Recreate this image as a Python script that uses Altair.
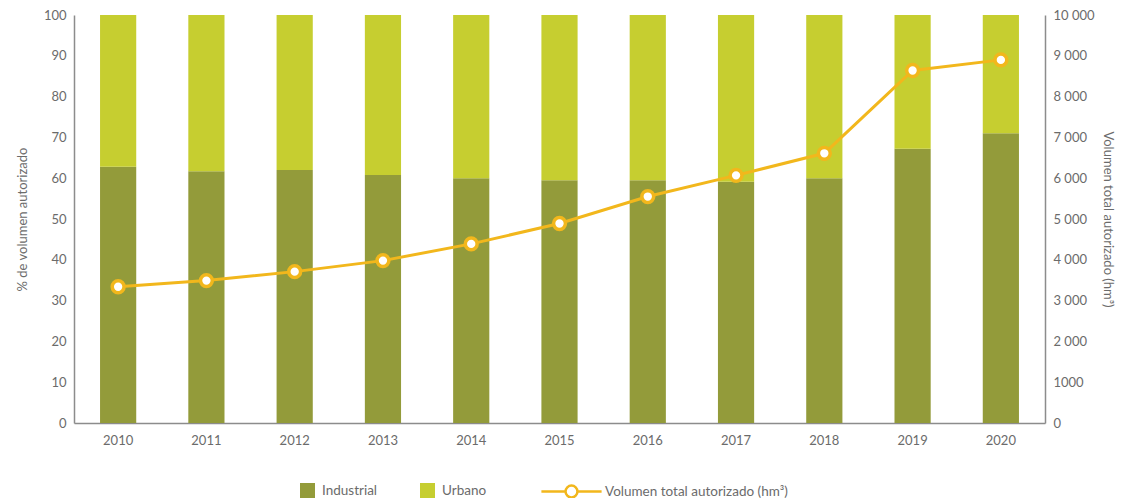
import altair as alt
import pandas as pd

years = [str(y) for y in range(2010, 2021)]
industrial = [62.8, 61.7, 62.0, 60.8, 60.0, 59.5, 59.5, 59.1, 60.0, 67.2, 71.0]
urbano = [round(100 - v, 1) for v in industrial]
volumen = [3340, 3490, 3710, 3980, 4390, 4890, 5550, 6070, 6610, 8640, 8900]
tipos = ["Industrial", "Urbano"]
colores = ["#939b3a", "#c6ce30"]
serie = "Volumen total autorizado (hm³)"
pct_ticks = list(range(0, 101, 10))
vol_ticks = list(range(0, 10001, 1000))

bars_df = pd.DataFrame({
    "year": years * 2,
    "tipo": ["Industrial"] * len(years) + ["Urbano"] * len(years),
    "pct": industrial + urbano,
    "orden": [0] * len(years) + [1] * len(years),
})
line_df = pd.DataFrame({"year": years, "vol": volumen, "serie": [serie] * len(years)})

FONT = "Lato"
GRAY = "#6b6b6b"
AXIS_GRAY = "#8c8c8c"
YEL = "#f2b71c"

x = alt.X(
    "year:O",
    scale=alt.Scale(paddingInner=0.59, paddingOuter=0.295),
    axis=alt.Axis(title=None, labelAngle=0, ticks=False, labelPadding=11),
)

bars = alt.Chart(bars_df).mark_bar().encode(
    x=x,
    y=alt.Y(
        "pct:Q",
        stack="zero",
        scale=alt.Scale(domain=[0, 100], nice=False),
        axis=alt.Axis(
            title="% de volumen autorizado",
            values=pct_ticks,
            ticks=False,
            grid=False,
            labelPadding=8,
            titlePadding=14,
        ),
    ),
    color=alt.Color(
        "tipo:N",
        scale=alt.Scale(domain=tipos, range=colores),
        legend=alt.Legend(
            title=None,
            orient="none",
            direction="horizontal",
            legendX=226,
            legendY=468,
            symbolType="square",
            symbolSize=225,
            symbolStrokeWidth=0,
            symbolOpacity=1,
            labelOffset=7,
            columnPadding=42,
            padding=0,
        ),
    ),
    order=alt.Order("orden:Q"),
)

vol_scale = alt.Scale(domain=[0, 10000], nice=False)
stroke_scale = alt.Scale(domain=[serie], range=[YEL])

legend_path = "M-4.3,0H-0.85M0.85,0H4.3M0.85,0A0.85,0.85 0 1,1 -0.85,0A0.85,0.85 0 1,1 0.85,0Z"
line_legend = alt.Legend(
    title=None,
    orient="none",
    legendX=489,
    legendY=468,
    symbolType=legend_path,
    symbolSize=196,
    symbolStrokeWidth=2.5,
    symbolFillColor="white",
    symbolOpacity=1,
    labelOffset=25,
    labelLimit=400,
    padding=0,
)

line = alt.Chart(line_df).mark_line(strokeWidth=3).encode(
    x=x,
    y=alt.Y(
        "vol:Q",
        scale=vol_scale,
        axis=alt.Axis(
            orient="right",
            title=serie,
            values=vol_ticks,
            ticks=False,
            grid=False,
            labelPadding=8,
            titlePadding=6,
            labelExpr="datum.value >= 2000 ? replace(format(datum.value, ','), ',', ' ') : format(datum.value, 'd')",
        ),
    ),
    stroke=alt.Stroke("serie:N", scale=stroke_scale, legend=line_legend),
)

points = alt.Chart(line_df).mark_point(
    filled=False, fill="white", fillOpacity=1, strokeWidth=3.5, size=140, opacity=1
).encode(
    x=x,
    y=alt.Y("vol:Q", scale=vol_scale, axis=None),
    stroke=alt.Stroke("serie:N", scale=stroke_scale, legend=line_legend),
)

chart = (
    alt.layer(bars, line, points)
    .resolve_scale(y="independent")
    .properties(
        width=971,
        height=408,
        autosize=alt.AutoSizeParams(type="none"),
        padding={"left": 66, "top": 7, "right": 72, "bottom": 75},
    )
    .configure_view(stroke=None)
    .configure_axis(
        labelFont=FONT,
        titleFont=FONT,
        labelFontSize=13,
        titleFontSize=13,
        labelColor=GRAY,
        titleColor=GRAY,
        titleFontWeight="normal",
        domainColor=AXIS_GRAY,
        domainWidth=1.5,
    )
    .configure_legend(
        labelFont=FONT,
        labelFontSize=13.5,
        labelColor=GRAY,
        labelLimit=400,
    )
)

chart.save("out.html", embed_options={"renderer": "svg", "actions": False})
